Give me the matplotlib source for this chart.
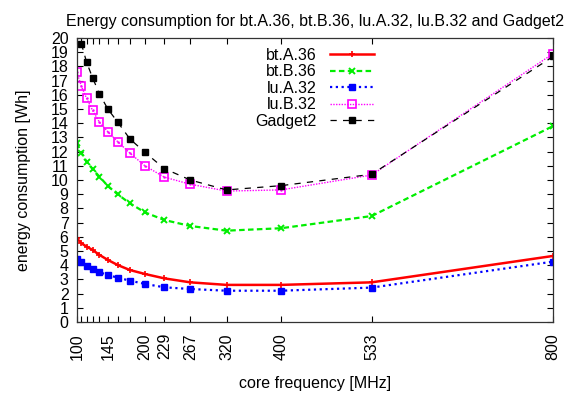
import matplotlib.pyplot as plt

plt.rcParams['font.family'] = ['Liberation Sans', 'DejaVu Sans']

freq = [100, 106.7, 114.3, 123.1, 133.3, 145.5, 160, 177.8, 200, 228.6, 266.7, 320, 400, 533.3, 800]
tick_labels = {100: '100', 145.5: '145', 200: '200', 228.6: '229', 266.7: '267',
               320: '320', 400: '400', 533.3: '533', 800: '800'}

bt_a_36 = [5.89, 5.54, 5.31, 5.07, 4.72, 4.37, 4.01, 3.66, 3.38, 3.07, 2.79, 2.61, 2.61, 2.79, 4.65]
bt_b_36 = [12.6, 11.9, 11.3, 10.77, 10.23, 9.58, 8.99, 8.36, 7.72, 7.18, 6.76, 6.43, 6.6, 7.46, 13.8]
lu_a_32 = [4.44, 4.25, 3.97, 3.73, 3.5, 3.31, 3.12, 2.91, 2.68, 2.44, 2.32, 2.2, 2.2, 2.42, 4.25]
lu_b_32 = [17.6, 16.6, 15.75, 14.9, 14.06, 13.4, 12.7, 11.9, 11.0, 10.2, 9.7, 9.22, 9.3, 10.35, 18.9]
# Gadget2 has no run at 100 MHz
gadget2_freq = freq[1:]
gadget2 = [19.6, 18.3, 17.2, 16.06, 15.0, 14.08, 12.9, 11.95, 10.8, 10.0, 9.3, 9.6, 10.4, 18.7]

fig = plt.figure(figsize=(5.65, 3.96), dpi=100)
ax = fig.add_axes([0.136, 0.187, 0.843, 0.717])

ax.plot(freq, bt_a_36, color='#ff0000', lw=1.8, marker='+', ms=5, mew=1.2, label='bt.A.36')
ax.plot(freq, bt_b_36, color='#00ee00', lw=1.6, ls=(0, (2.5, 1.5)), marker='x', ms=5, mew=1.4,
        label='bt.B.36')
ax.plot(freq, lu_a_32, color='#0000ff', lw=1.6, ls=(0, (1, 1.6)), marker='s', ms=4.5,
        label='lu.A.32')
ax.plot(freq, lu_b_32, color='#ff00ff', lw=1.0, ls=(0, (1, 1)), marker='s', ms=6, mew=1.2,
        mfc='none', label='lu.B.32')
ax.plot(freq, lu_b_32, ls='none', marker='.', ms=1.5, color='#ff00ff')
ax.plot(gadget2_freq, gadget2, color='black', lw=0.9, ls=(0, (5, 5)), marker='s', ms=4,
        label='Gadget2')

ax.set_xlim(100, 800)
ax.set_ylim(0, 20)
ax.set_yticks(range(0, 21))
ax.set_xticks(freq)
ax.set_xticklabels([tick_labels.get(f, '') for f in freq], rotation=90)
ax.tick_params(direction='in', length=4, width=0.8, labelsize=11.5, top=True, right=True, pad=3)
ax.tick_params(axis='y', pad=6)
ax.tick_params(axis='x', pad=8)
for s in ax.spines.values():
    s.set_linewidth(0.9)
    s.set_color('#333333')

ax.set_xlabel('core frequency [MHz]', fontsize=11.5, labelpad=12)
ax.set_ylabel('energy consumption [Wh]', fontsize=11.5, labelpad=14)
ax.set_title('Energy consumption for bt.A.36, bt.B.36, lu.A.32, lu.B.32 and Gadget2',
             fontsize=11.5, pad=9)

ax.legend(loc='upper center', bbox_to_anchor=(0.5, 1.0), frameon=False, markerfirst=False,
          fontsize=11.5, handlelength=2.8, labelspacing=0.1, borderaxespad=0.2)

fig.savefig('out.png', dpi=100)
